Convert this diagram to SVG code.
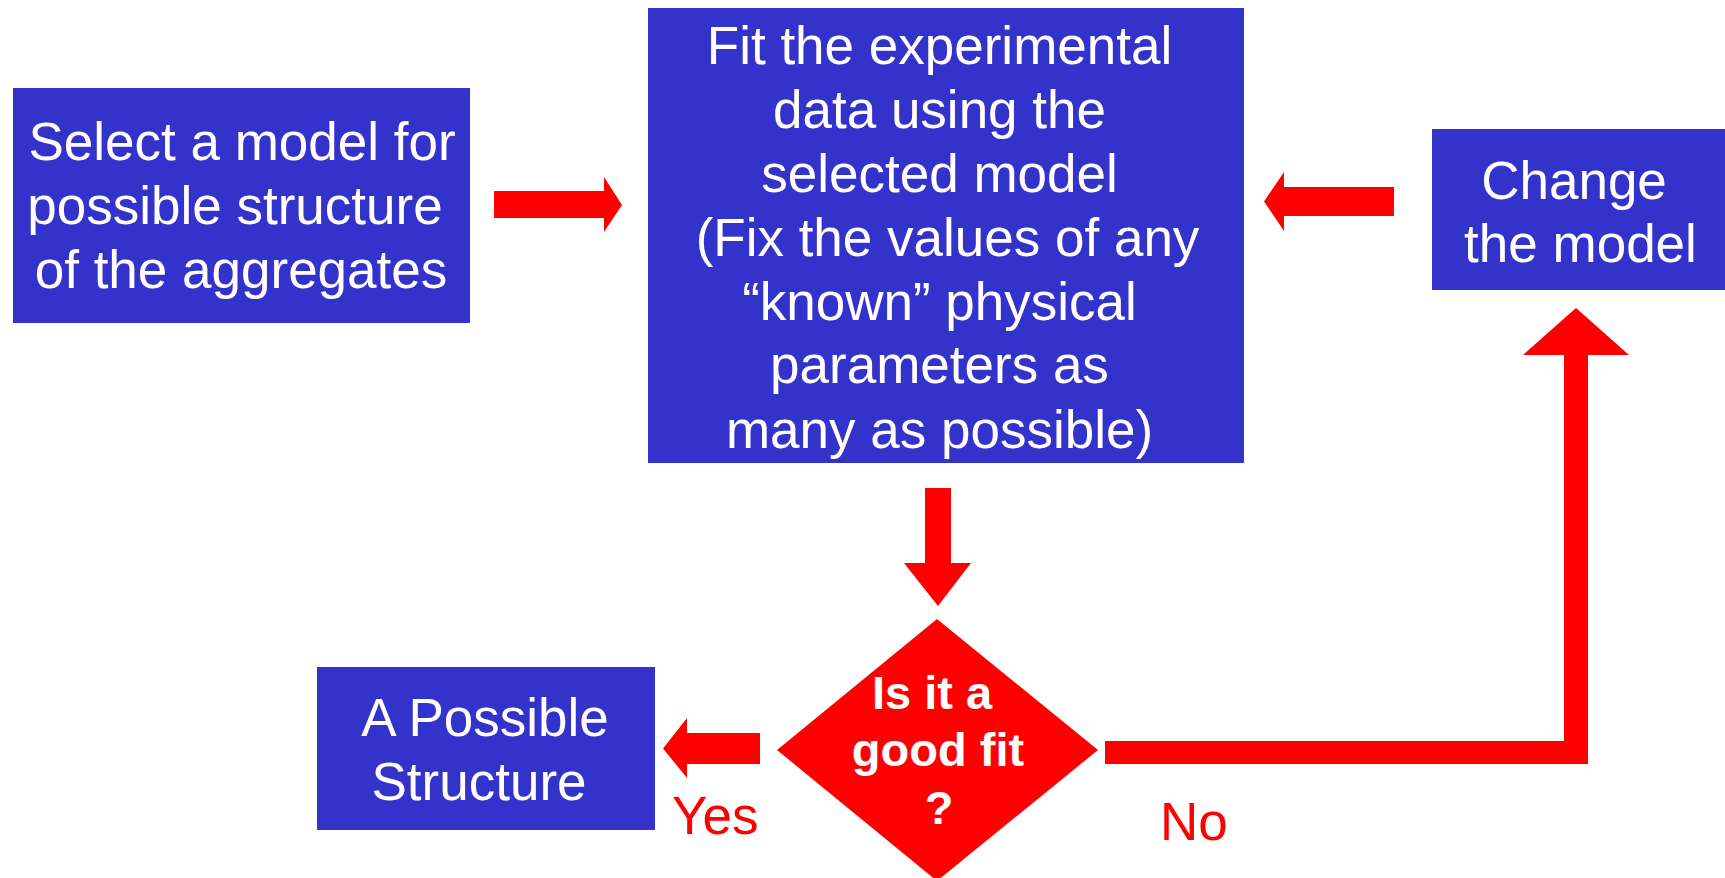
<svg xmlns="http://www.w3.org/2000/svg" width="1725" height="878" viewBox="0 0 1725 878">
<style>
.box{fill:#3333CC}
.t{font-family:"Liberation Sans",Arial,Helvetica,sans-serif;font-size:53px;fill:#fff;text-anchor:middle}
.b{font-family:"Liberation Sans",Arial,Helvetica,sans-serif;font-size:47px;font-weight:bold;fill:#fff;text-anchor:middle}
.lab{font-family:"Liberation Sans",Arial,Helvetica,sans-serif;font-size:53px;fill:#FF0000}
.arr{fill:#FF0000}
</style>
<rect width="1725" height="878" fill="#fff"/>
<g id="connectors">
<polygon class="arr" points="494,191 604,191 604,177 622,205 604,232 604,218 494,218"/>
<polygon class="arr" points="1394,187 1284,187 1284,172 1264,201.5 1284,231 1284,216 1394,216"/>
<polygon class="arr" points="925,488 951,488 951,563 971,563 938,606 904,563 925,563"/>
<polygon class="arr" points="760,733 687,733 687,718 663,748.5 687,778 687,764 760,764"/>
<polygon class="arr" points="1105,741 1564,741 1564,355 1523,355 1576,308 1629,355 1588,355 1588,764 1105,764"/>
<text class="lab" x="672" y="834">Yes</text>
<text class="lab" x="1160" y="840">No</text>
</g>
<g id="select">
<rect class="box" x="13" y="88" width="457" height="235"/>
<text class="t" x="242" y="160">Select a model for</text>
<text class="t" x="235" y="224">possible structure</text>
<text class="t" x="241" y="288">of the aggregates</text>
</g>
<g id="fit">
<rect class="box" x="648" y="8" width="596" height="455"/>
<text class="t" x="939.5" y="64">Fit the experimental</text>
<text class="t" x="939.5" y="128">data using the</text>
<text class="t" x="939.5" y="192">selected model</text>
<text class="t" x="947.5" y="256">(Fix the values of any</text>
<text class="t" x="939.5" y="320">“known” physical</text>
<text class="t" x="939.5" y="383">parameters as</text>
<text class="t" x="939.5" y="448">many as possible)</text>
</g>
<g id="change">
<rect class="box" x="1432" y="129" width="293" height="161"/>
<text class="t" x="1574" y="199">Change</text>
<text class="t" x="1580.5" y="262">the model</text>
</g>
<g id="decision">
<polygon fill="#FF0000" points="937,619 1098,750 937,881 777,750"/>
<text class="b" x="932" y="709">Is it a</text>
<text class="b" x="938" y="766">good fit</text>
<text class="b" x="939" y="824">?</text>
</g>
<g id="possible">
<rect class="box" x="317" y="667" width="338" height="163"/>
<text class="t" x="485" y="736">A Possible</text>
<text class="t" x="479" y="800">Structure</text>
</g>
</svg>
